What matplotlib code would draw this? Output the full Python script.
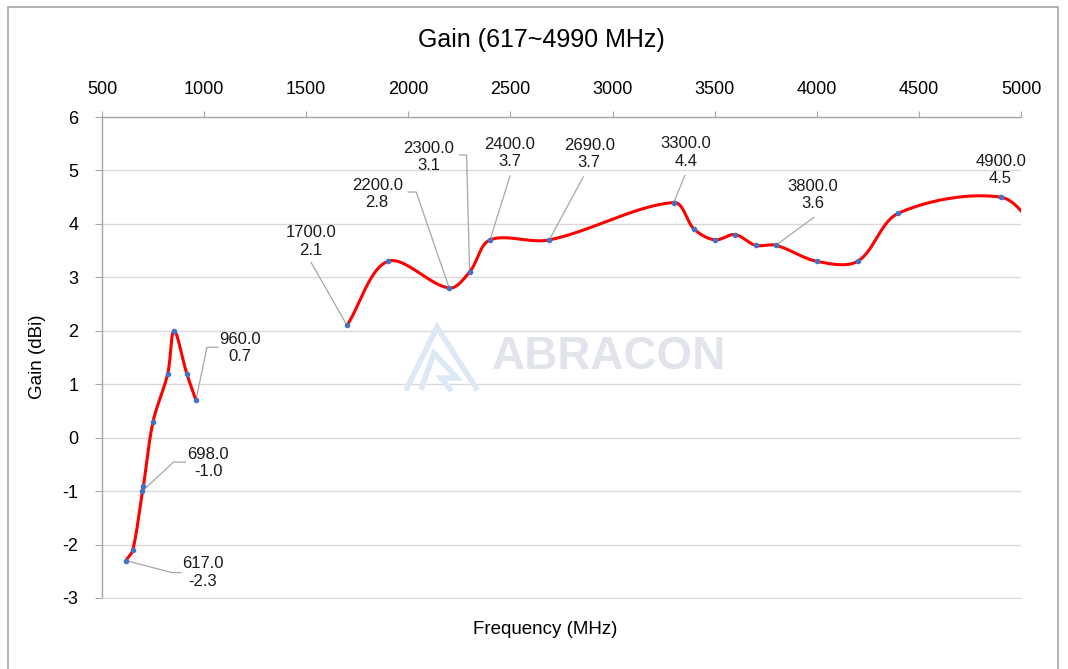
import matplotlib.pyplot as plt
from matplotlib.lines import Line2D
from matplotlib.patches import Rectangle
from matplotlib.transforms import IdentityTransform
import numpy as np

plt.rcParams['font.family'] = ['Liberation Sans', 'DejaVu Sans']
plt.rcParams['axes.unicode_minus'] = False

# low band points (MHz, dBi)
low_freq = [617, 651, 698, 703, 750, 822, 853, 915, 960]
low_gain = [-2.3, -2.1, -1.0, -0.9, 0.3, 1.2, 2.0, 1.2, 0.7]

# mid/high band points
high_freq = [1700, 1900, 2200, 2300, 2400, 2690, 3300, 3400, 3500, 3600,
             3700, 3800, 4000, 4200, 4400, 4900, 5100]
high_gain = [2.1, 3.3, 2.8, 3.1, 3.7, 3.7, 4.4, 3.9, 3.7, 3.8,
             3.6, 3.6, 3.3, 3.3, 4.2, 4.5, 3.8]

# labelled points
label_freq = [617, 698, 960, 1700, 2200, 2300, 2400, 2690, 3300, 3800, 4900]
label_gain = [-2.3, -1.0, 0.7, 2.1, 2.8, 3.1, 3.7, 3.7, 4.4, 3.6, 4.5]

x_ticks = [500, 1000, 1500, 2000, 2500, 3000, 3500, 4000, 4500, 5000]
y_ticks = [6, 5, 4, 3, 2, 1, 0, -1, -2, -3]

# label text offset and leader path, pixels from the point (y up)
label_layout = {
    617: ((77, -12), [(46, -12), (55, -12)]),
    698: ((66, 28), [(31, 29), (43, 29)]),
    960: ((44, 52), [(11, 53), (22, 53)]),
    1700: ((-36, 84), [(-36, 63)]),
    2200: ((-72, 94), [(-33, 96), (-41, 96)]),
    2300: ((-41, 115), [(-3, 117), (-10, 117)]),
    2400: ((20, 87), [(20, 64)]),
    2690: ((40, 86), [(34, 63)]),
    3300: ((12, 50), [(11, 27)]),
    3800: ((37, 50), [(38, 28)]),
    4900: ((0, 27), []),
}

W, H = 1068, 669


def smooth(ax, xs, ys, n=40):
    # bezier through the points in display space, tangents weighted by
    # segment length (close to what Excel's smoothed line does)
    p = ax.transData.transform(np.column_stack([xs, ys]))
    p = np.vstack([p[0], p, p[-1]])
    t = np.linspace(0, 1, n)[:, None]
    out = []
    for i in range(1, len(p) - 2):
        p0, p1, p2, p3 = p[i - 1], p[i], p[i + 1], p[i + 2]
        l01 = np.hypot(*(p1 - p0))
        l12 = np.hypot(*(p2 - p1))
        l23 = np.hypot(*(p3 - p2))
        c1 = p1 + (p2 - p0) * (l12 / max(l01 + l12, 1e-9)) / 3
        c2 = p2 - (p3 - p1) * (l12 / max(l12 + l23, 1e-9)) / 3
        seg = ((1 - t) ** 3 * p1 + 3 * (1 - t) ** 2 * t * c1
               + 3 * (1 - t) * t ** 2 * c2 + t ** 3 * p2)
        out.append(seg)
    return ax.transData.inverted().transform(np.vstack(out))


def main():
    fig = plt.figure(figsize=(W / 100, H / 100), dpi=100)
    ax = fig.add_axes([102 / W, 1 - 598 / H, (1021 - 102) / W, (598 - 117) / H])

    ax.set_xlim(500, 5000)
    ax.set_ylim(-3, 6)
    ax.set_xticks(x_ticks)
    ax.set_yticks(y_ticks)
    ax.xaxis.tick_top()
    ax.spines['right'].set_visible(False)
    ax.spines['bottom'].set_color('#d9d9d9')
    for s in ['top', 'left']:
        ax.spines[s].set_color('#a6a6a6')
        ax.spines[s].set_linewidth(1.0)
    ax.tick_params(axis='x', length=4, pad=10, color='#a6a6a6', labelsize=13)
    ax.tick_params(axis='y', length=5, pad=12, color='#a6a6a6', labelsize=13)
    ax.grid(axis='y', color='#d9d9d9', linewidth=1.0)
    ax.set_axisbelow(True)

    # watermark
    ax.text(609 / W, 1 - 357 / H, 'ABRACON', transform=fig.transFigure,
            fontsize=33, fontweight='bold', color='#e1e4eb',
            ha='center', va='center', zorder=0.6)
    logo = [[(407, 388), (437, 327), (476, 388)],
            [(422, 387), (434, 353), (457, 378), (441, 378), (450, 389)]]
    for path in logo:
        px = [a for a, b in path]
        py = [H - b for a, b in path]
        ax.add_line(Line2D(px, py, transform=IdentityTransform(),
                           color='#dde8f7', linewidth=4, zorder=0.6,
                           solid_joinstyle='miter'))

    for xs, ys in [(low_freq, low_gain), (high_freq, high_gain)]:
        curve = smooth(ax, xs, ys)
        ax.plot(curve[:, 0], curve[:, 1], color='#ff0000', linewidth=2.2, zorder=3)
        ax.plot(xs, ys, linestyle='none', marker='o', markersize=3,
                color='#4472c4', zorder=4)

    for f, g in zip(label_freq, label_gain):
        (tx, ty), leader = label_layout[f]
        x0, y0 = ax.transData.transform((f, g))
        if leader:
            lx = [x0] + [x0 + dx for dx, dy in leader]
            ly = [y0] + [y0 + dy for dx, dy in leader]
            ax.add_line(Line2D(lx, ly, transform=IdentityTransform(),
                               color='#a6a6a6', linewidth=0.9, zorder=2))
        ax.annotate(f'{f:.1f}\n{g:.1f}', xy=(f, g), xytext=(tx, ty),
                    textcoords='offset pixels', ha='center', va='center',
                    multialignment='center', fontsize=12, color='#1a1a1a',
                    annotation_clip=False)

    fig.text(541 / W, 1 - 40 / H, 'Gain (617~4990 MHz)', ha='center',
             va='center', fontsize=18)
    fig.text(545 / W, 1 - 630 / H, 'Frequency (MHz)', ha='center',
             va='center', fontsize=13.5)
    fig.text(38 / W, 1 - 357 / H, 'Gain (dBi)', ha='center', va='center',
             rotation=90, fontsize=13.5)

    fig.patches.append(Rectangle((8 / W, -0.05), 1050 / W, 1.05 - 7 / H,
                                 transform=fig.transFigure, fill=False,
                                 edgecolor='#a6a6a6', linewidth=1.2))

    fig.savefig('out.png', dpi=100)


if __name__ == '__main__':
    main()
